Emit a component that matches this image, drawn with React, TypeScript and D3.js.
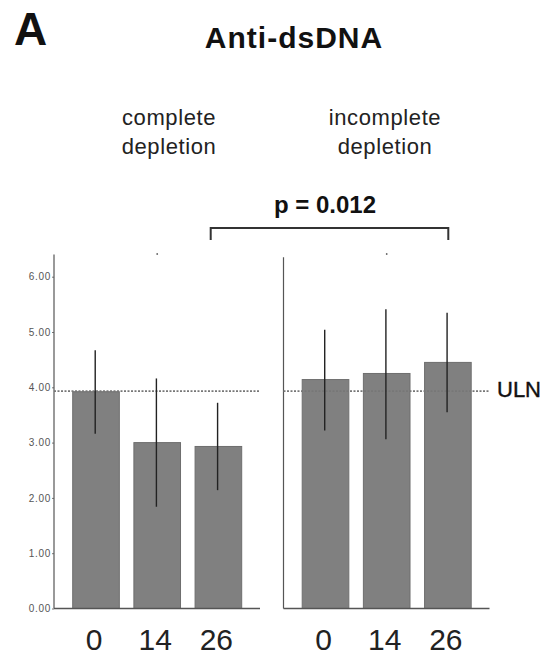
import { useEffect, useRef } from "react"
import * as d3 from "d3"

const weeks = ["0", "14", "26"]
const completeMeans = [3.92, 3.0, 2.93]
const completeUpper = [4.67, 4.16, 3.72]
const completeLower = [3.16, 1.84, 2.14]
const incompleteMeans = [4.14, 4.25, 4.45]
const incompleteUpper = [5.04, 5.41, 5.35]
const incompleteLower = [3.22, 3.06, 3.55]
const ulnValue = 3.93
const yTicks = [0, 1, 2, 3, 4, 5, 6]

const FONT = "'Liberation Sans', Arial, sans-serif"

export default function App() {
  const svgRef = useRef<SVGSVGElement>(null)

  useEffect(() => {
    if (!svgRef.current) return
    const svg = d3.select(svgRef.current)
    svg.selectAll("*").remove()

    const width = 547
    const height = 655
    svg.attr("width", width).attr("height", height)

    const y = d3.scaleLinear().domain([0, 6]).range([608.5, 276.7])

    // panel letter + title
    svg.append("text").attr("x", 14).attr("y", 45)
      .style("font-family", FONT).style("font-size", "46px").style("font-weight", "bold")
      .style("fill", "#111").text("A")
    svg.append("text").attr("x", 294).attr("y", 48).attr("text-anchor", "middle")
      .style("font-family", FONT).style("font-size", "30px").style("font-weight", "bold")
      .style("letter-spacing", "1px").style("fill", "#111").text("Anti-dsDNA")

    const panels = [
      { x0: 54, means: completeMeans, upper: completeUpper, lower: completeLower, label: ["complete", "depletion"], labelX: 169, ticks: true, axisTop: 6.4 },
      { x0: 283.5, means: incompleteMeans, upper: incompleteUpper, lower: incompleteLower, label: ["incomplete", "depletion"], labelX: 385, ticks: false, axisTop: 6.35 },
    ]

    panels.forEach((p) => {
      const g = svg.append("g").attr("transform", `translate(${p.x0},0)`)
      const x = d3.scaleBand<string>().domain(weeks).range([18.7, 187.7]).paddingInner(0.238).paddingOuter(0)

      // subgroup label
      p.label.forEach((t, i) => {
        svg.append("text").attr("x", p.labelX).attr("y", 125 + i * 29).attr("text-anchor", "middle")
          .style("font-family", FONT).style("font-size", "22px").style("letter-spacing", "0.6px")
          .style("fill", "#222").text(t)
      })

      // y axis
      if (p.ticks) {
        const axis = g.append("g").call(
          d3.axisLeft(y).tickValues(yTicks).tickSize(2).tickFormat(d3.format(".2f"))
        )
        axis.select(".domain").remove()
        axis.selectAll("line").attr("stroke", "#777")
        axis.selectAll("text").style("font-family", FONT).style("font-size", "10px")
          .style("letter-spacing", "0.7px").style("fill", "#555").attr("x", -3)
      }
      g.append("line").attr("x1", 0).attr("x2", 0).attr("y1", y(p.axisTop)).attr("y2", y(0))
        .attr("stroke", "#555").attr("stroke-width", 1.2)

      // bars
      g.selectAll(".bar").data(p.means).enter().append("rect").attr("class", "bar")
        .attr("x", (_, i) => x(weeks[i])!)
        .attr("width", x.bandwidth())
        .attr("y", (d) => y(d))
        .attr("height", (d) => y(0) - y(d))
        .attr("fill", "#808080").attr("stroke", "#6e6e6e").attr("stroke-width", 1)

      // ULN dotted line
      g.append("line").attr("x1", 0).attr("x2", 205).attr("y1", y(ulnValue)).attr("y2", y(ulnValue))
        .attr("stroke", "#777").attr("stroke-width", 1.6).attr("stroke-dasharray", "2,1.5")

      // error bars
      g.selectAll(".err").data(p.means).enter().append("line").attr("class", "err")
        .attr("x1", (_, i) => x(weeks[i])! + x.bandwidth() / 2 - 0.8)
        .attr("x2", (_, i) => x(weeks[i])! + x.bandwidth() / 2 - 0.8)
        .attr("y1", (_, i) => y(p.upper[i]))
        .attr("y2", (_, i) => y(p.lower[i]))
        .attr("stroke", "#222").attr("stroke-width", 1.4)

      // baseline
      g.append("line").attr("x1", 0).attr("x2", 206).attr("y1", y(0)).attr("y2", y(0))
        .attr("stroke", "#555").attr("stroke-width", 1.4)

      // tiny mark above middle bar
      g.append("circle").attr("cx", x(weeks[1])! + x.bandwidth() / 2).attr("cy", 254).attr("r", 0.9)
        .attr("fill", "#666")

      // x labels
      g.selectAll(".xl").data(weeks).enter().append("text").attr("class", "xl")
        .attr("x", (d) => x(d)! + x.bandwidth() / 2 - 2)
        .attr("y", 650).attr("text-anchor", "middle")
        .style("font-family", FONT).style("font-size", "30px").style("fill", "#222")
        .text((d) => d)
    })

    // significance bracket
    const bx1 = 210.7, bx2 = 448.3, by = 228
    svg.append("path").attr("d", `M${bx1},${by + 12}V${by}H${bx2}V${by + 12}`)
      .attr("fill", "none").attr("stroke", "#333").attr("stroke-width", 2)
    svg.append("text").attr("x", 325).attr("y", 213).attr("text-anchor", "middle")
      .style("font-family", FONT).style("font-size", "24px").style("font-weight", "bold")
      .style("fill", "#111").text("p = 0.012")

    // ULN label
    svg.append("text").attr("x", 497).attr("y", 397)
      .style("font-family", FONT).style("font-size", "22px").style("fill", "#111")
      .style("stroke", "#111").style("stroke-width", "0.4px").text("ULN")
  }, [])

  return (
    <div style={{ position: "absolute", left: 0, top: 0, background: "#fff" }}>
      <svg ref={svgRef} style={{ display: "block" }}></svg>
    </div>
  )
}
